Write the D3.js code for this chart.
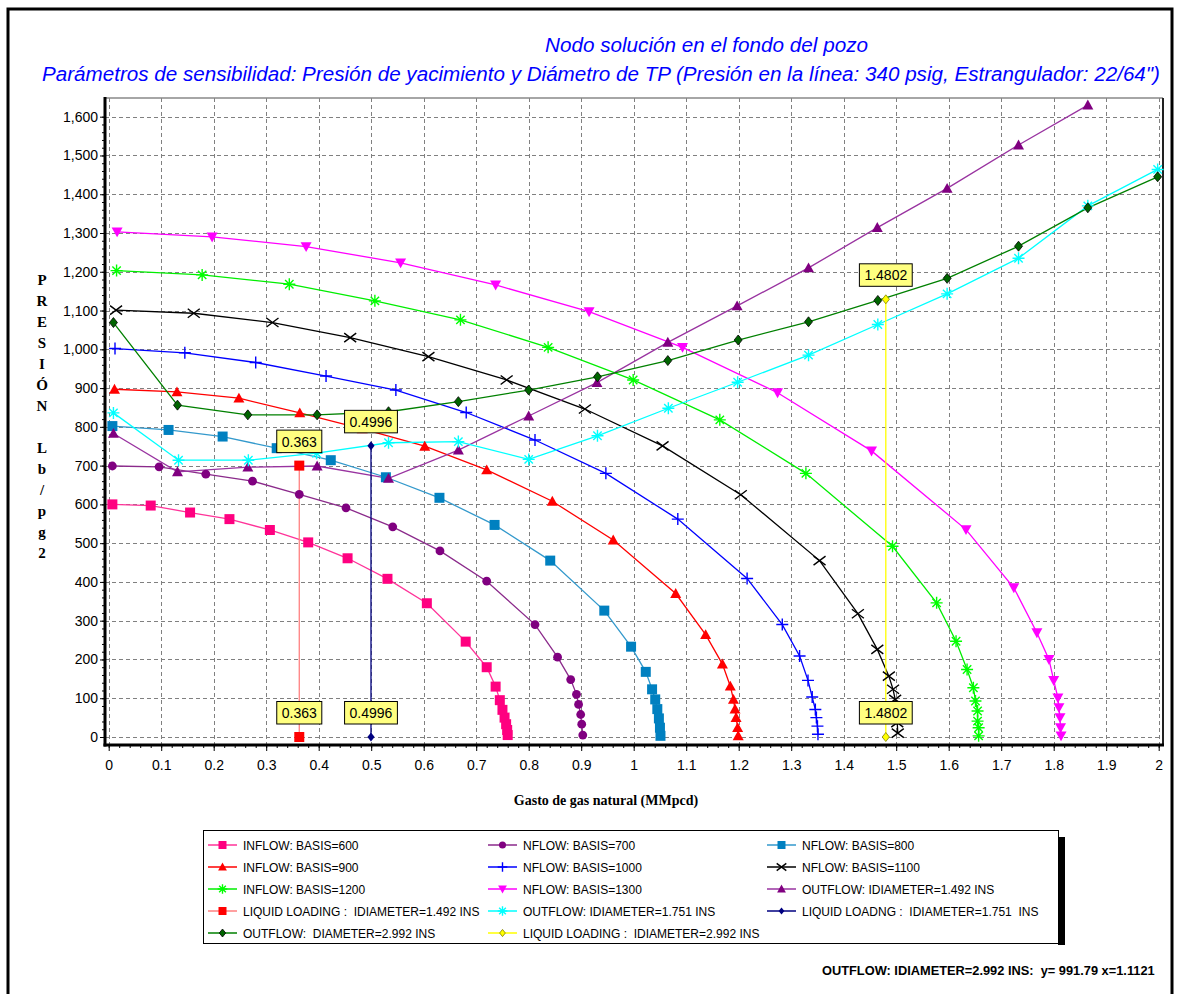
<!DOCTYPE html>
<html>
<head>
<meta charset="utf-8">
<script src="https://cdn.jsdelivr.net/npm/d3@7"></script>
<style>
  body { margin: 0; background: #fff; }
  text { font-family: "Liberation Sans", Arial, sans-serif; }
</style>
</head>
<body>
<div id="chart"></div>
<script>
// values: [gasto MMpcd, presion lb/pg2]
const inflow600 = [[0.007,600],[0.08,597],[0.155,579],[0.23,562],[0.307,534],[0.38,502],[0.455,461],[0.531,408],[0.606,345],[0.68,246],[0.72,180],[0.737,130],[0.745,95],[0.75,70],[0.754,50],[0.757,33],[0.759,18],[0.76,5]];
const inflow700 = [[0.007,699],[0.096,697],[0.185,678],[0.274,660],[0.363,626],[0.452,591],[0.541,542],[0.631,480],[0.72,402],[0.812,290],[0.855,206],[0.88,148],[0.891,110],[0.895,84],[0.899,58],[0.901,33],[0.903,5]];
const inflow800 = [[0.007,802],[0.114,792],[0.217,775],[0.32,745],[0.423,714],[0.528,670],[0.63,617],[0.735,547],[0.841,455],[0.944,326],[0.995,233],[1.023,168],[1.035,123],[1.041,97],[1.045,72],[1.048,48],[1.05,24],[1.051,3]];
const inflow900 = [[0.011,897],[0.13,890],[0.248,874],[0.364,836],[0.483,795],[0.602,750],[0.72,689],[0.845,608],[0.961,508],[1.08,370],[1.137,264],[1.169,188],[1.184,131],[1.19,97],[1.193,72],[1.195,50],[1.198,24],[1.199,3]];
const inflow1000 = [[0.012,1002],[0.145,991],[0.28,966],[0.414,931],[0.547,895],[0.681,837],[0.812,766],[0.947,680],[1.084,562],[1.216,409],[1.283,290],[1.316,209],[1.332,146],[1.34,103],[1.346,71],[1.348,50],[1.35,28],[1.351,7]];
const inflow1100 = [[0.014,1101],[0.162,1093],[0.312,1069],[0.46,1030],[0.609,981],[0.758,921],[0.907,846],[1.055,751],[1.204,625],[1.354,455],[1.427,318],[1.464,226],[1.486,157],[1.494,123],[1.498,97],[1.5,67],[1.502,37],[1.503,10]];
const inflow1200 = [[0.015,1203],[0.178,1192],[0.344,1168],[0.507,1125],[0.67,1076],[0.837,1005],[0.999,921],[1.164,818],[1.328,680],[1.493,492],[1.577,346],[1.614,247],[1.635,174],[1.647,127],[1.651,93],[1.655,67],[1.655,41],[1.657,24],[1.657,3]];
const inflow1300 = [[0.016,1303],[0.197,1290],[0.376,1265],[0.556,1223],[0.737,1166],[0.915,1097],[1.093,1005],[1.274,888],[1.453,738],[1.633,535],[1.724,385],[1.768,269],[1.791,200],[1.8,146],[1.808,101],[1.81,76],[1.812,50],[1.813,24],[1.814,3]];
const outflow1492 = [[0.009,783],[0.131,684],[0.265,696],[0.397,699],[0.533,667],[0.666,740],[0.8,828],[0.93,914],[1.065,1018],[1.197,1112],[1.333,1210],[1.464,1314],[1.597,1415],[1.733,1527],[1.865,1630]];
const outflow1751 = [[0.009,836],[0.133,714],[0.266,714],[0.396,732],[0.533,759],[0.666,762],[0.8,716],[0.931,777],[1.066,848],[1.198,915],[1.333,985],[1.465,1064],[1.597,1143],[1.733,1235],[1.865,1370],[1.998,1464]];
const outflow2992 = [[0.009,1069],[0.131,856],[0.265,831],[0.397,831],[0.533,839],[0.666,865],[0.8,895],[0.931,929],[1.065,971],[1.199,1024],[1.333,1071],[1.465,1126],[1.597,1183],[1.733,1266],[1.865,1365],[1.998,1445]];
const loading1492 = [[0.363,700],[0.363,0]];
const loading1751 = [[0.4996,751],[0.4996,0]];
const loading2992 = [[1.4802,1129],[1.4802,0]];

const loadingLabels = ["0.363", "0.4996", "1.4802"];

const legendNames = [
  "INFLOW: BASIS=600", "NFLOW: BASIS=700", "NFLOW: BASIS=800",
  "INFLOW: BASIS=900", "NFLOW: BASIS=1000", "NFLOW: BASIS=1100",
  "INFLOW: BASIS=1200", "NFLOW: BASIS=1300", "OUTFLOW: IDIAMETER=1.492 INS",
  "LIQUID LOADING :  IDIAMETER=1.492 INS", "OUTFLOW: IDIAMETER=1.751 INS", "LIQUID LOADNG :  IDIAMETER=1.751  INS",
  "OUTFLOW:  DIAMETER=2.992 INS", "LIQUID LOADING :  IDIAMETER=2.992 INS"
];

const xTicks = d3.range(0, 21).map(i => i / 10);
const yTicks = d3.range(0, 17).map(i => i * 100);
const yTitle = ["P","R","E","S","I","Ó","N","","L","b","/","p","g","2"];

// series styles
const series = [
  { data: inflow600,  color: "#FF0080", line: "#FF3399", marker: "square", size: 10 },
  { data: inflow700,  color: "#800080", line: "#8B2A8B", marker: "circle", size: 9 },
  { data: inflow800,  color: "#0080C0", line: "#3399CC", marker: "square", size: 10 },
  { data: inflow900,  color: "#FF0000", line: "#FF0000", marker: "triUp", size: 11 },
  { data: inflow1000, color: "#0000FF", line: "#0000FF", marker: "plus", size: 12 },
  { data: inflow1100, color: "#000000", line: "#000000", marker: "cross", size: 12 },
  { data: inflow1200, color: "#00FF00", line: "#00EE00", marker: "star", size: 12 },
  { data: inflow1300, color: "#FF00FF", line: "#FF00FF", marker: "triDown", size: 11 },
  { data: outflow1492, color: "#800080", line: "#9933A0", marker: "triUp", size: 11 },
  { data: loading1492, color: "#FF0000", line: "#FF8080", marker: "square", size: 10 },
  { data: outflow1751, color: "#00FFFF", line: "#00FFFF", marker: "star", size: 12 },
  { data: loading1751, color: "#000080", line: "#000080", marker: "diamond", size: 9 },
  { data: outflow2992, color: "#006400", line: "#008000", marker: "diamond", size: 10, stroke: "#000" },
  { data: loading2992, color: "#FFFF00", line: "#FFFF00", marker: "diamond", size: 9, stroke: "#808000" }
];

const svg = d3.select("#chart").append("svg")
  .attr("width", 1180)
  .attr("height", 994);

svg.append("rect").attr("width", 1180).attr("height", 994).attr("fill", "#fff");
// outer frame
svg.append("rect")
  .attr("x", 8).attr("y", 9).attr("width", 1164).attr("height", 1000)
  .attr("fill", "none").attr("stroke", "#000").attr("stroke-width", 3);

const plot = { left: 105, right: 1163, top: 98, bottom: 745 };
const x = d3.scaleLinear().domain([0, 2]).range([108.7, 1158.7]);
const y = d3.scaleLinear().domain([0, 1600]).range([737, 116.7]);

// titles
svg.append("text")
  .attr("x", 545).attr("y", 52)
  .attr("textLength", 323).attr("lengthAdjust", "spacingAndGlyphs")
  .style("font-size", "20px").style("font-style", "italic").attr("fill", "#0000FF")
  .text("Nodo solución en el fondo del pozo");
svg.append("text")
  .attr("x", 42).attr("y", 81)
  .attr("textLength", 1118).attr("lengthAdjust", "spacingAndGlyphs")
  .style("font-size", "20px").style("font-style", "italic").attr("fill", "#0000FF")
  .text("Parámetros de sensibilidad: Presión de yacimiento y Diámetro de TP (Presión en la línea: 340 psig, Estrangulador: 22/64\")");

// grid
const grid = svg.append("g").attr("stroke", "#808080").attr("stroke-dasharray", "4,3").attr("stroke-width", 1);
grid.selectAll(".gx").data(xTicks).join("line")
  .attr("x1", d => Math.round(x(d)) + 0.5).attr("x2", d => Math.round(x(d)) + 0.5)
  .attr("y1", plot.top).attr("y2", plot.bottom);
grid.selectAll(".gy").data(yTicks).join("line")
  .attr("y1", d => Math.round(y(d)) + 0.5).attr("y2", d => Math.round(y(d)) + 0.5)
  .attr("x1", plot.left).attr("x2", plot.right);

// plot border
svg.append("line").attr("x1", plot.left).attr("x2", plot.right).attr("y1", plot.top).attr("y2", plot.top)
  .attr("stroke", "#888").attr("stroke-width", 1.5);
svg.append("line").attr("x1", plot.right).attr("x2", plot.right).attr("y1", plot.top).attr("y2", plot.bottom)
  .attr("stroke", "#222").attr("stroke-width", 2);

// axes
const xAxis = svg.append("g").attr("transform", `translate(0,${plot.bottom})`)
  .call(d3.axisBottom(x).tickValues(xTicks).tickSize(6).tickFormat(d => String(+d.toFixed(1))));
xAxis.select(".domain").remove();
xAxis.selectAll("text").attr("y", 15).style("font-size", "14px").attr("fill", "#000");
svg.append("g").attr("transform", `translate(0,${plot.bottom})`)
  .call(d3.axisBottom(x).tickValues(d3.range(0, 101).map(i => i / 50)).tickSize(3).tickFormat(""))
  .select(".domain").remove();

const yAxis = svg.append("g").attr("transform", `translate(${plot.left},0)`)
  .call(d3.axisLeft(y).tickValues(yTicks).tickSize(5).tickPadding(2).tickFormat(d3.format(",")));
yAxis.select(".domain").remove();
yAxis.selectAll("text").style("font-size", "14px").attr("fill", "#000");
svg.append("g").attr("transform", `translate(${plot.left},0)`)
  .call(d3.axisLeft(y).tickValues(d3.range(0, 81).map(i => i * 20)).tickSize(3).tickFormat(""))
  .select(".domain").remove();

svg.append("line").attr("x1", plot.left).attr("x2", plot.left).attr("y1", plot.top - 1).attr("y2", plot.bottom + 1.5)
  .attr("stroke", "#000").attr("stroke-width", 3);
svg.append("line").attr("x1", plot.left - 1.5).attr("x2", plot.right + 1).attr("y1", plot.bottom).attr("y2", plot.bottom)
  .attr("stroke", "#000").attr("stroke-width", 3);

// axis titles
svg.append("g").selectAll("text").data(yTitle).join("text")
  .attr("x", 42).attr("y", (d, i) => 285 + i * 21)
  .attr("text-anchor", "middle")
  .style("font-family", "'Liberation Serif', 'Times New Roman', serif")
  .style("font-weight", "bold").style("font-size", "15px")
  .text(d => d);
svg.append("text")
  .attr("x", 606).attr("y", 805).attr("text-anchor", "middle")
  .style("font-family", "'Liberation Serif', 'Times New Roman', serif")
  .style("font-weight", "bold").style("font-size", "14px")
  .text("Gasto de gas natural (MMpcd)");

// markers
function markerPath(type, s) {
  const h = s / 2;
  switch (type) {
    case "triUp": return `M0,${-h}L${h},${h * 0.8}L${-h},${h * 0.8}Z`;
    case "triDown": return `M0,${h}L${h},${-h * 0.8}L${-h},${-h * 0.8}Z`;
    case "plus": return `M${-h},0L${h},0M0,${-h}L0,${h}`;
    case "cross": return `M${-h},${-h * 0.75}L${h},${h * 0.75}M${-h},${h * 0.75}L${h},${-h * 0.75}`;
    case "star": return `M${-h},0L${h},0M0,${-h}L0,${h}M${-h * 0.7},${-h * 0.7}L${h * 0.7},${h * 0.7}M${-h * 0.7},${h * 0.7}L${h * 0.7},${-h * 0.7}`;
    case "diamond": return `M0,${-h}L${h * 0.8},0L0,${h}L${-h * 0.8},0Z`;
    case "square": return `M${-h},${-h}L${h},${-h}L${h},${h}L${-h},${h}Z`;
    case "circle": return d3.symbol(d3.symbolCircle, s * s * 0.75)();
  }
}
const strokeOnly = t => t === "plus" || t === "cross" || t === "star";

function drawMarkers(g, s, pts, scale) {
  const size = s.size * (scale || 1);
  g.selectAll("path.m").data(pts).join("path")
    .attr("class", "m")
    .attr("transform", d => `translate(${d[0]},${d[1]})`)
    .attr("d", markerPath(s.marker, size))
    .attr("fill", strokeOnly(s.marker) ? "none" : s.color)
    .attr("stroke", strokeOnly(s.marker) ? s.color : (s.stroke || "none"))
    .attr("stroke-width", strokeOnly(s.marker) ? 1.4 : 0.8);
}

const line = d3.line().x(d => x(d[0])).y(d => y(d[1]));
const lines = svg.append("g");
series.forEach(s => {
  lines.append("path").datum(s.data)
    .attr("d", line).attr("fill", "none")
    .attr("stroke", s.line).attr("stroke-width", 1.3);
});
series.forEach(s => {
  drawMarkers(svg.append("g"), s, s.data.map(d => [x(d[0]), y(d[1])]));
});

// liquid loading labels
const loadingSets = [loading1492, loading1751, loading2992];
loadingSets.forEach((set, i) => {
  set.forEach(p => {
    const cx = x(p[0]), cy = y(p[1]);
    const g = svg.append("g");
    const t = g.append("text")
      .attr("x", cx).attr("y", cy - 13 - 6)
      .attr("text-anchor", "middle").style("font-size", "14px")
      .text(loadingLabels[i]);
    const w = t.node().getComputedTextLength() + 10;
    g.insert("rect", "text")
      .attr("x", cx - w / 2).attr("y", cy - 13 - 22.5)
      .attr("width", w).attr("height", 22.5)
      .attr("fill", "#FFFF80").attr("stroke", "#000").attr("stroke-width", 1);
  });
});

// legend
const legend = svg.append("g");
legend.append("rect").attr("x", 1058).attr("y", 837).attr("width", 7).attr("height", 108).attr("fill", "#000");
legend.append("rect").attr("x", 203.5).attr("y", 830.5).attr("width", 855).attr("height", 113)
  .attr("fill", "#fff").attr("stroke", "#000").attr("stroke-width", 1);
const colX = [208, 488, 767];
series.forEach((s, i) => {
  const lx = colX[i % 3], ly = 845 + Math.floor(i / 3) * 22;
  const g = legend.append("g");
  g.append("line").attr("x1", lx).attr("x2", lx + 29).attr("y1", ly).attr("y2", ly)
    .attr("stroke", s.line).attr("stroke-width", 1.5);
  drawMarkers(g, s, [[lx + 14.5, ly]], 0.8);
  g.append("text").attr("x", lx + 35).attr("y", ly + 4.5)
    .style("font-size", "12px").style("white-space", "pre")
    .text(legendNames[i]);
});

// cursor readout, sized so it spans the same width as in the picture
const readout = svg.append("text")
  .attr("x", 822).attr("y", 975)
  .style("font-size", "14px").style("font-weight", "bold").style("white-space", "pre")
  .text("OUTFLOW: IDIAMETER=2.992 INS:  y= 991.79 x=1.1121");
const rw = readout.node().getComputedTextLength();
readout.style("font-size", (14 * 333 / rw).toFixed(2) + "px");
</script>
</body>
</html>
